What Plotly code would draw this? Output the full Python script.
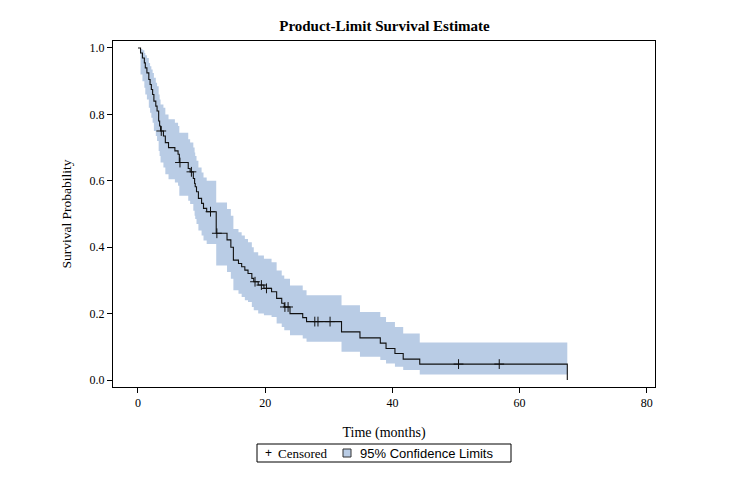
import plotly.graph_objects as go

# ---- data ----
event_times = [0.4, 0.7, 1.0, 1.15, 1.4, 1.7, 1.9, 2.1, 2.3, 2.5, 2.8, 3.0, 3.25, 3.4, 3.55,
               4.0, 4.3, 4.8, 5.8, 6.3, 6.5, 7.9, 8.2, 8.7, 8.9, 9.0, 9.2, 9.5, 10.0, 10.3,
               10.8, 12.3, 14.0, 14.6, 15.0, 15.8, 16.3, 16.8, 17.3, 17.9, 18.2, 18.9, 19.8,
               21.0, 21.8, 22.6, 23.0, 23.9, 25.9, 26.5, 32.0, 34.9, 38.1, 39.0, 40.4, 41.7,
               44.3, 67.5]
survival = [0.985, 0.97, 0.955, 0.94, 0.925, 0.905, 0.89, 0.875, 0.86, 0.84, 0.825, 0.81, 0.78,
            0.765, 0.75, 0.735, 0.715, 0.70, 0.69, 0.68, 0.655, 0.637, 0.627, 0.607, 0.592,
            0.582, 0.567, 0.547, 0.532, 0.517, 0.507, 0.442, 0.422, 0.40, 0.361, 0.351, 0.341,
            0.331, 0.321, 0.306, 0.296, 0.286, 0.276, 0.266, 0.246, 0.231, 0.22, 0.20, 0.188,
            0.176, 0.145, 0.127, 0.111, 0.095, 0.080, 0.063, 0.048, 0.0]
lower_cl = [0.92, 0.90, 0.88, 0.86, 0.845, 0.82, 0.805, 0.79, 0.775, 0.75, 0.735, 0.72, 0.69,
            0.675, 0.655, 0.64, 0.62, 0.605, 0.595, 0.585, 0.555, 0.54, 0.53, 0.51, 0.495,
            0.485, 0.47, 0.45, 0.435, 0.42, 0.41, 0.345, 0.325, 0.305, 0.27, 0.26, 0.25, 0.24,
            0.235, 0.22, 0.21, 0.20, 0.195, 0.19, 0.17, 0.16, 0.15, 0.135, 0.125, 0.115, 0.085,
            0.07, 0.06, 0.05, 0.04, 0.03, 0.017]
upper_cl = [0.997, 0.993, 0.985, 0.978, 0.97, 0.955, 0.945, 0.935, 0.925, 0.91, 0.895, 0.885,
            0.86, 0.845, 0.83, 0.82, 0.80, 0.785, 0.775, 0.765, 0.745, 0.725, 0.715, 0.70,
            0.685, 0.675, 0.66, 0.64, 0.625, 0.61, 0.60, 0.535, 0.515, 0.495, 0.455, 0.445,
            0.435, 0.425, 0.415, 0.40, 0.385, 0.375, 0.365, 0.355, 0.33, 0.315, 0.305, 0.285,
            0.27, 0.255, 0.225, 0.205, 0.19, 0.175, 0.16, 0.14, 0.113]
censor_times = [3.66, 6.6, 8.4, 11.4, 12.4, 18.4, 19.4, 20.2, 23.1, 23.6, 27.8, 28.3, 30.2,
                50.4, 56.8]
x_ticks = [0, 20, 40, 60, 80]
y_ticks = [0.0, 0.2, 0.4, 0.6, 0.8, 1.0]
y_tick_text = ["0.0", "0.2", "0.4", "0.6", "0.8", "1.0"]

BAND = "#B9CCE5"
SERIF = "Liberation Serif, Times New Roman, serif"
SANS = "Liberation Sans, Arial, sans-serif"


def step_value(t):
    val = 1.0
    for et, s in zip(event_times, survival):
        if et <= t:
            val = s
    return val


def step_path(values):
    xs, ys = [0.0], [1.0]
    prev = 1.0
    for t, v in zip(event_times[:len(values)], values):
        xs += [t, t]
        ys += [prev, v]
        prev = v
    xs.append(event_times[-1])
    ys.append(prev)
    return xs, ys


ux, uy = step_path(upper_cl)
lx, ly = step_path(lower_cl)
band_x = ux + lx[::-1]
band_y = uy + ly[::-1]

fig = go.Figure()
fig.add_trace(go.Scatter(x=band_x, y=band_y, fill="toself", fillcolor=BAND,
                         line=dict(width=0), mode="lines", hoverinfo="skip",
                         name="95% Confidence Limits", showlegend=False))
fig.add_trace(go.Scatter(x=[0] + event_times, y=[1.0] + survival, mode="lines",
                         line=dict(color="#111111", width=1.1, shape="hv"),
                         name="Survival", showlegend=False))
fig.add_trace(go.Scatter(x=censor_times, y=[step_value(t) for t in censor_times],
                         mode="markers",
                         marker=dict(symbol="cross-thin", size=7,
                                     line=dict(color="#111111", width=1)),
                         name="Censored", showlegend=False))

OFF = 8  # page body margin
W, H = 732 - OFF, 486 - OFF
L, R, T, B = 113 - OFF, 77, 41 - OFF, 99
pw, ph = W - L - R, H - T - B


def px(x):
    return (x - OFF - L) / pw


def py(y):
    return (H - B - (y - OFF)) / ph


fig.update_layout(
    width=W, height=H,
    margin=dict(l=L, r=R, t=T, b=B),
    paper_bgcolor="white", plot_bgcolor="white",
    title=dict(text="<b>Product-Limit Survival Estimate</b>", xref="paper", x=px(384.5),
               xanchor="center", y=1 - (26 - OFF) / H, yanchor="middle",
               font=dict(family=SERIF, size=15, color="black")),
    xaxis=dict(range=[-3.93, 81.29], tickvals=x_ticks, ticks="outside", ticklen=5,
               tickcolor="black", showgrid=False, zeroline=False, showline=True,
               linecolor="black", linewidth=1, mirror=True,
               tickfont=dict(family=SERIF, size=12, color="black"),
               title=dict(text="Time (months)", standoff=17,
                          font=dict(family=SERIF, size=14, color="black"))),
    yaxis=dict(range=[-0.021, 1.021], tickvals=y_ticks, ticktext=y_tick_text,
               ticks="outside", ticklen=5, tickcolor="black", showgrid=False,
               zeroline=False, showline=True, linecolor="black", linewidth=1, mirror=True,
               tickfont=dict(family=SERIF, size=12, color="black"),
               title=dict(text="Survival Probability", standoff=14,
                          font=dict(family=SERIF, size=13.5, color="black"))),
    showlegend=False,
)

# legend box drawn in paper coordinates
fig.add_shape(type="rect", xref="paper", yref="paper", x0=px(257), x1=px(511),
              y0=py(462), y1=py(444), line=dict(color="black", width=1),
              fillcolor="white", layer="above")
fig.add_shape(type="rect", xref="paper", yref="paper", x0=px(343), x1=px(351),
              y0=py(457), y1=py(449), line=dict(color="#333333", width=1),
              fillcolor=BAND, layer="above")
fig.add_annotation(x=px(263), y=py(453), xref="paper", yref="paper", text="+",
                   showarrow=False, xanchor="left", yanchor="middle",
                   font=dict(family=SANS, size=12, color="black"))
fig.add_annotation(x=px(276), y=py(453), xref="paper", yref="paper", text="Censored",
                   showarrow=False, xanchor="left", yanchor="middle",
                   font=dict(family=SERIF, size=13, color="black"))
fig.add_annotation(x=px(358), y=py(453), xref="paper", yref="paper",
                   text="95% Confidence Limits", showarrow=False, xanchor="left",
                   yanchor="middle", font=dict(family=SANS, size=13, color="black"))

fig.write_html("out.html")
